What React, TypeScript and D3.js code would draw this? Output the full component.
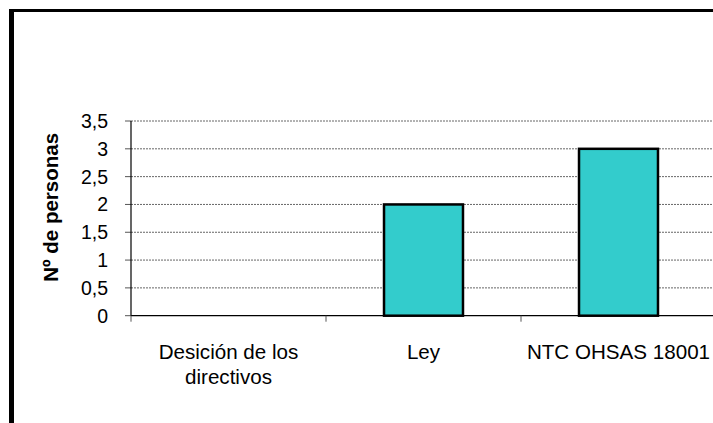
import React from "react";
import * as d3 from "d3";

const categories: string[][] = [["Desición de los", "directivos"], ["Ley"], ["NTC OHSAS 18001"]];
const values: number[] = [0, 2, 3];
const yTicks: number[] = [0, 0.5, 1, 1.5, 2, 2.5, 3, 3.5];
const yTitle = "Nº de personas";

const W = 713;
const H = 423;
const FONT = "'Liberation Sans', Arial, sans-serif";

export default function App() {
  const left = 131;
  const right = 716;
  const top = 121;
  const bottom = 315.7;
  const keys = categories.map((c) => c.join(" "));
  const x = d3.scaleBand<string>().domain(keys).range([left, right]).paddingInner(0).paddingOuter(0);
  const y = d3.scaleLinear().domain([0, 3.5]).range([bottom, top]);
  const barW = x.bandwidth() * 0.405;
  const fmt = (v: number) => String(v).replace(".", ",");
  const boundaries = keys.map((k) => x(k)!).concat([right]);

  return (
    <svg width={W} height={H} style={{ position: "absolute", left: 0, top: 0, background: "#fff" }}>
      <rect x={0} y={0} width={W} height={H} fill="#fff" />
      {/* outer frame */}
      <line x1={9} x2={W} y1={10.5} y2={10.5} stroke="#000" strokeWidth={3} />
      <line x1={11.5} x2={11.5} y1={9} y2={H} stroke="#000" strokeWidth={5} />

      {/* gridlines */}
      {yTicks.filter((t) => t > 0).map((t) => (
        <line key={"g" + t} x1={left} x2={W} y1={y(t)} y2={y(t)} stroke="#666" strokeWidth={1} strokeDasharray="2,1" />
      ))}
      {/* y ticks */}
      {yTicks.map((t) => (
        <g key={"t" + t}>
          <line x1={125} x2={left} y1={y(t)} y2={y(t)} stroke="#555" strokeWidth={1} />
          <text x={108} y={y(t)} dy="0.36em" textAnchor="end" fontFamily={FONT} fontSize={19.5} fill="#000">
            {fmt(t)}
          </text>
        </g>
      ))}

      {/* bars */}
      {keys.map((k, i) => {
        const cx = x(k)! + x.bandwidth() / 2;
        const h = bottom - y(values[i]);
        if (values[i] <= 0) return null;
        return (
          <rect key={"b" + k} x={cx - barW / 2} y={y(values[i])} width={barW} height={h}
            fill="#33CCCC" stroke="#000" strokeWidth={2.5} />
        );
      })}

      {/* axes */}
      <line x1={left} x2={left} y1={top} y2={bottom} stroke="#000" strokeWidth={1.2} />
      <line x1={left} x2={W} y1={bottom} y2={bottom} stroke="#000" strokeWidth={1.2} />
      {boundaries.map((b, i) => (
        <line key={"xt" + i} x1={b} x2={b} y1={bottom} y2={bottom + 6} stroke="#555" strokeWidth={1} />
      ))}

      {/* category labels */}
      {categories.map((lines, i) => {
        const cx = x(keys[i])! + x.bandwidth() / 2;
        return (
          <text key={"c" + i} textAnchor="middle" fontFamily={FONT} fontSize={20.6} fill="#000">
            {lines.map((ln, j) => (
              <tspan key={j} x={cx} y={358.5 + j * 25}>{ln}</tspan>
            ))}
          </text>
        );
      })}

      {/* y title */}
      <text transform={`translate(58,${(top + bottom) / 2 - 11}) rotate(-90)`} textAnchor="middle"
        fontFamily={FONT} fontSize={20.5} fontWeight="bold" fill="#000">
        {yTitle}
      </text>
    </svg>
  );
}
